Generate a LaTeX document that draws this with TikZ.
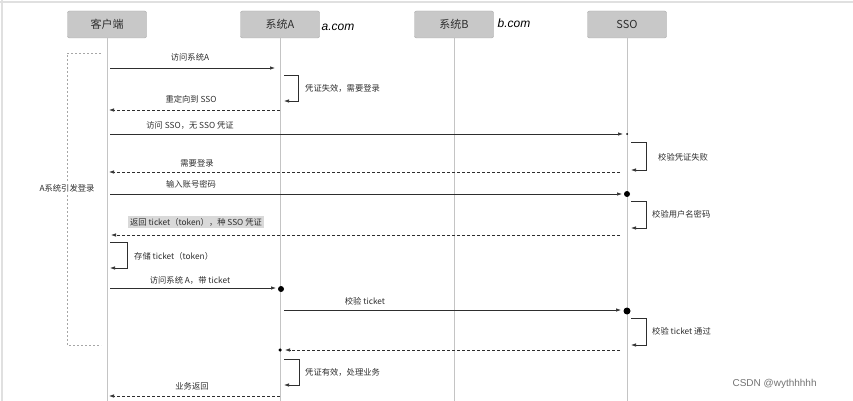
\documentclass[tikz,border=0pt]{standalone}
\usepackage{fontspec}
\setmainfont{Liberation Sans}
\newfontfamily\cjk{Noto Sans CJK SC}
\usetikzlibrary{arrows.meta}
\definecolor{boxfill}{HTML}{C8C8C8}
\definecolor{boxline}{HTML}{A9A9A9}
\definecolor{life}{HTML}{C4C4C4}
\definecolor{ink}{HTML}{2E2E2E}
\begin{document}
\begin{tikzpicture}[x=1pt,y=-1pt,
  font=\cjk\fontsize{8.3}{9}\selectfont, text=ink,
  head/.style={draw=boxline, fill=boxfill, rounded corners=2pt, minimum width=79pt, minimum height=27pt, inner sep=0pt, font=\cjk\fontsize{11}{12}\selectfont},
  lifeline/.style={draw=life, line width=1pt},
  msg/.style={draw=ink, line width=0.7pt, -{Latex[length=5pt,width=3.5pt]}},
  ret/.style={msg, dashed, dash pattern=on 3pt off 2pt},
  lbl/.style={inner sep=1pt},
  rlbl/.style={inner sep=0pt, anchor=west},
  dotn/.style={circle, fill=black, inner sep=0pt},
  hand/.style={font=\itshape\fontsize{12}{12}\selectfont, text=black}]
\useasboundingbox (0,0) rectangle (853,401);
\draw[color=black!12, line width=2pt] (0,2) -- (853,2);
\draw[color=black!12, line width=2pt] (2,0) -- (2,401);

% headers
\node[head] (c) at (107,24.5) {客户端};
\node[head] (a) at (280,24.5) {系统A};
\node[head] (b) at (454,24.5) {系统B};
\node[head] (s) at (627,24.5) {SSO};
\node[hand] (acom) at (338,27) {a.com};
\node[hand] (bcom) at (514,23) {b.com};

% lifelines
\coordinate (cE) at (107,401);
\coordinate (aE) at (280,401);
\coordinate (bE) at (454,401);
\coordinate (sE) at (627,401);
\draw[lifeline] (c.south) -- (cE);
\draw[lifeline] (a.south) -- (aE);
\draw[lifeline] (b.south) -- (bE);
\draw[lifeline] (s.south) -- (sE);

% dashed group frame
\coordinate (g1) at (101,53);
\coordinate (g2) at (67,53);
\coordinate (g3) at (67,345);
\coordinate (g4) at (101,345);
\draw[color=black!35, dashed, dash pattern=on 2pt off 2pt, line width=0.7pt] (g1) -- (g2) -- (g3) -- (g4);
\node[fill=white, inner sep=1.5pt] (glabel) at (67,188) {A系统引发登录};

% 1
\coordinate (m1s) at (110,68); \coordinate (m1e) at (275,68);
\draw[msg] (m1s) -- (m1e);
\node[lbl] (l1) at (190,57) {访问系统A};
% 2 self A
\coordinate (m2s) at (284,75); \coordinate (m2e) at (284,101);
\draw[msg] (m2s) -- ++(14,0) |- (m2e);
\node[rlbl] (l2) at (305,88) {凭证失效，需要登录};
% 3
\coordinate (m3s) at (280,110); \coordinate (m3e) at (109,110);
\draw[ret] (m3s) -- (m3e);
\node[lbl] (l3) at (191,99) {重定向到 SSO};
% 4
\coordinate (m4s) at (110,134); \coordinate (m4e) at (623,134);
\draw[msg] (m4s) -- (m4e);
\node[lbl] (l4) at (190,125) {访问 SSO，无 SSO 凭证};
\node[dotn, minimum size=2pt] (d4) at (627,134) {};
% 5 self SSO
\coordinate (m5s) at (631,142); \coordinate (m5e) at (631,170);
\draw[msg] (m5s) -- ++(15,0) |- (m5e);
\node[rlbl] (l5) at (658,157) {校验凭证失败};
% 6
\coordinate (m6s) at (620,172); \coordinate (m6e) at (109,172);
\draw[ret] (m6s) -- (m6e);
\node[lbl] (l6) at (197,163) {需要登录};
% 7
\coordinate (m7s) at (110,194); \coordinate (m7e) at (622,194);
\draw[msg] (m7s) -- (m7e);
\node[lbl] (l7) at (191,184) {输入账号密码};
\node[dotn, minimum size=6pt] (d7) at (627,194) {};
% 8 self SSO
\coordinate (m8s) at (631,201); \coordinate (m8e) at (631,228);
\draw[msg] (m8s) -- ++(15,0) |- (m8e);
\node[rlbl] (l8) at (652,214) {校验用户名密码};
% 9
\coordinate (m9s) at (620,235); \coordinate (m9e) at (111,235);
\draw[ret] (m9s) -- (m9e);
\node[lbl, fill=black!15, inner sep=2.5pt] (l9) at (196,222) {返回 ticket（token），种 SSO 凭证};
% 10 self client
\coordinate (m10s) at (110,242); \coordinate (m10e) at (110,268);
\draw[msg] (m10s) -- ++(17,0) |- (m10e);
\node[rlbl] (l10) at (134,256) {存储 ticket（token）};
% 11
\coordinate (m11s) at (110,288); \coordinate (m11e) at (276,288);
\draw[msg] (m11s) -- (m11e);
\node[lbl] (l11) at (190,280) {访问系统 A，带 ticket};
\node[dotn, minimum size=6pt] (d11) at (281,289) {};
% 12
\coordinate (m12s) at (284,310); \coordinate (m12e) at (621,310);
\draw[msg] (m12s) -- (m12e);
\node[lbl] (l12) at (365,301) {校验 ticket};
\node[dotn, minimum size=7pt] (d12) at (627,311) {};
% 13 self SSO
\coordinate (m13s) at (631,318); \coordinate (m13e) at (631,345);
\draw[msg] (m13s) -- ++(15,0) |- (m13e);
\node[rlbl] (l13) at (652,331) {校验 ticket 通过};
% 14
\coordinate (m14s) at (620,350); \coordinate (m14e) at (285,350);
\draw[ret] (m14s) -- (m14e);
\node[dotn, minimum size=3.5pt] (d14) at (280,350) {};
% 15 self A
\coordinate (m15s) at (284,359); \coordinate (m15e) at (284,385);
\draw[msg] (m15s) -- ++(15,0) |- (m15e);
\node[rlbl] (l15) at (305,372) {凭证有效，处理业务};
% 16
\coordinate (m16s) at (280,396); \coordinate (m16e) at (109,396);
\draw[ret] (m16s) -- (m16e);
\node[lbl] (l16) at (192,386) {业务返回};

% watermark
\node[font=\fontsize{10}{10}\selectfont, text=black!55, anchor=west] (wm) at (729,384) {CSDN @wythhhhh};
\end{tikzpicture}
\end{document}
